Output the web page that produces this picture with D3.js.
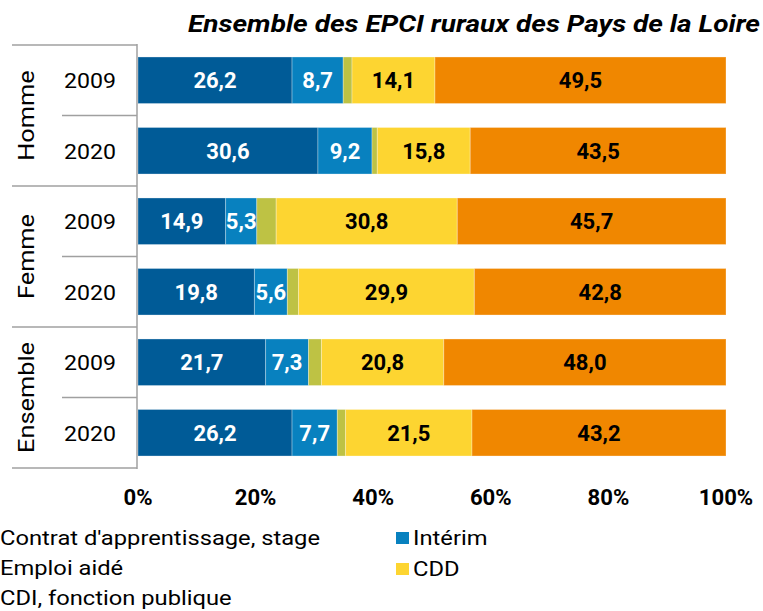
<!DOCTYPE html>
<html><head><meta charset="utf-8">
<script src="https://cdn.jsdelivr.net/npm/d3@7"></script>
<style>body{margin:0;background:#fff}svg{display:block}text{font-family:Roboto,sans-serif}</style>
</head><body><svg id="c" width="763" height="611"></svg>
<script>
const groups = ["Homme","Femme","Ensemble"];
const years = ["2009","2020"];
const rows = ["Homme 2009","Homme 2020","Femme 2009","Femme 2020","Ensemble 2009","Ensemble 2020"];
const seriesNames = ["Contrat d'apprentissage, stage","Intérim","Emploi aidé","CDD","CDI, fonction publique"];
const apprentissage = [26.2,30.6,14.9,19.8,21.7,26.2];
const interim = [8.7,9.2,5.3,5.6,7.3,7.7];
const emploiAide = [1.5,0.9,3.3,1.9,2.2,1.4];
const cdd = [14.1,15.8,30.8,29.9,20.8,21.5];
const cdi = [49.5,43.5,45.7,42.8,48.0,43.2];
const ticks = [0,20,40,60,80,100];
const title = "Ensemble des EPCI ruraux des Pays de la Loire";
const colors = ["#005b97","#0881bf","#bec244","#fdd531","#f08700"];
const labelColors = ["#fff","#fff",null,"#000","#000"];

const svg = d3.select("#c");
function stretch(sel, factor){
  sel.each(function(){
    const w=this.getComputedTextLength();
    this.setAttribute("textLength", w*factor);
    this.setAttribute("lengthAdjust","spacingAndGlyphs");
  });
}
function factorFor(str, size, weight, style, target){
  const t = svg.append("text").attr("font-size",size).attr("font-weight",weight).attr("font-style",style).text(str);
  const w = t.node().getComputedTextLength(); t.remove();
  return target/w;
}

const x = d3.scaleLinear().domain([0,100]).range([138,726]);
const y = d3.scaleBand().domain(rows).range([45,468]).paddingInner(0.34).paddingOuter(0.17);
const data = rows.map((r,i)=>({row:r,v:[apprentissage[i],interim[i],emploiAide[i],cdd[i],cdi[i]]}));
const stack = d3.stack().keys([0,1,2,3,4]).value((d,k)=>d.v[k]);
const layers = stack(data);
const fmt = v=>d3.format(".1f")(v).replace(".",",");

layers.forEach((L,k)=>{
  const g = svg.append("g");
  g.selectAll("rect").data(L).join("rect")
    .attr("x",d=>x(d[0])).attr("width",d=>x(d[1])-x(d[0]))
    .attr("y",d=>y(d.data.row)).attr("height",y.bandwidth())
    .attr("fill",colors[k]).attr("stroke","#fff").attr("stroke-opacity",0.3).attr("stroke-width",1);
  if(labelColors[k]) g.selectAll("text").data(L).join("text")
    .attr("x",d=>(x(d[0])+x(d[1]))/2).attr("y",d=>y(d.data.row)+y.bandwidth()/2+8)
    .attr("text-anchor","middle").attr("font-size",22).attr("font-weight","bold")
    .attr("fill",labelColors[k]).text(d=>fmt(d.data.v[k]));
});

// category axis
const ax = svg.append("g").attr("stroke","#a0a0a0").attr("stroke-width",1.5);
ax.append("line").attr("x1",137).attr("x2",137).attr("y1",44).attr("y2",469);
const gStep = (468-45)/3;
const gFac = factorFor("Ensemble",22,"normal","normal",111);
groups.forEach((gname,gi)=>{
  const y0 = 45+gi*gStep;
  ax.append("line").attr("x1",12).attr("x2",137).attr("y1",y0).attr("y2",y0);
  ax.append("line").attr("x1",62).attr("x2",137).attr("y1",y0+gStep/2).attr("y2",y0+gStep/2);
  svg.append("text").attr("transform",`translate(34,${y0+gStep/2}) rotate(-90)`)
    .attr("text-anchor","middle").attr("font-size",22).attr("fill","#000").text(gname)
    .call(stretch,gFac);
});
ax.append("line").attr("x1",12).attr("x2",137).attr("y1",468).attr("y2",468);
const yFac = factorFor("2009",21,"normal","normal",52);
rows.forEach((r,i)=>{
  svg.append("text").attr("x",90).attr("y",y(r)+y.bandwidth()/2+8).attr("text-anchor","middle")
    .attr("font-size",21).attr("fill","#000").text(years[i%2]).call(stretch,yFac);
});

// x axis labels
const tFac = factorFor("0%",22,"bold","normal",29);
svg.append("g").selectAll("text").data(ticks).join("text")
  .attr("x",d=>x(d)).attr("y",505).attr("text-anchor","middle")
  .attr("font-size",22).attr("font-weight","bold").text(d=>d+"%").call(stretch,tFac);

// title
const tiFac = factorFor(title,24.5,"bold","italic",572);
svg.append("text").attr("x",760).attr("y",32).attr("text-anchor","end")
  .attr("font-size",24.5).attr("font-weight","bold").attr("font-style","italic").text(title)
  .call(stretch,tiFac);

// legend
const lFac = factorFor(seriesNames[0],21,"normal","normal",320);
const legPos = [[0,545],[413,545],[0,575],[413,576],[0,605]];
seriesNames.forEach((n,k)=>{
  const [lx,ly]=legPos[k];
  svg.append("rect").attr("x",lx-17).attr("y",ly-13).attr("width",13).attr("height",12).attr("fill",colors[k]);
  svg.append("text").attr("x",lx).attr("y",ly).attr("font-size",21).text(n).call(stretch,lFac);
});
</script></body></html>
